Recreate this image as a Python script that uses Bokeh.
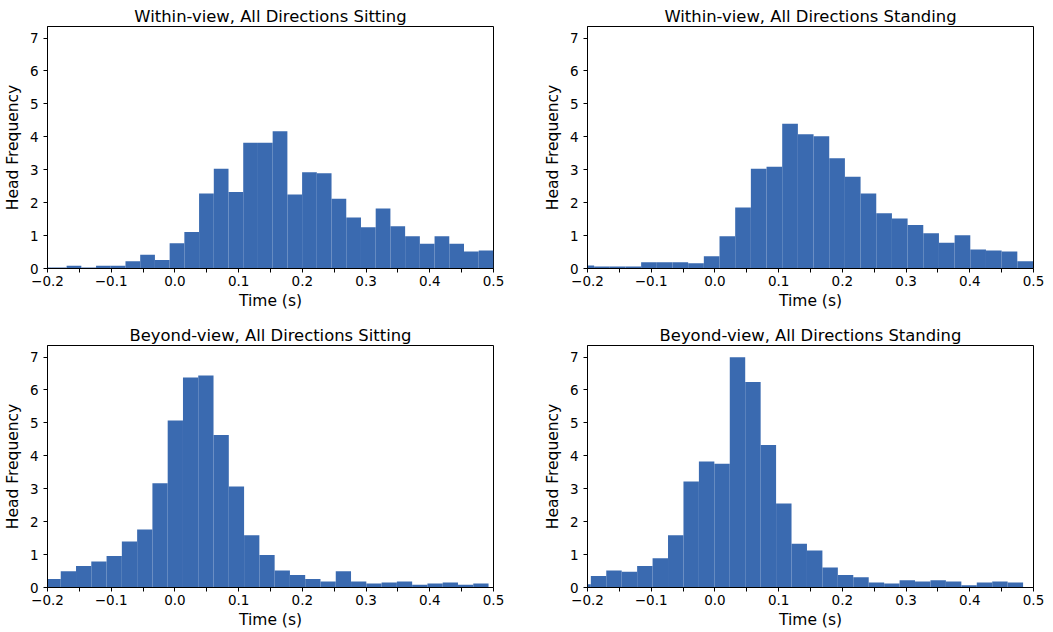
from bokeh.plotting import figure
from bokeh.layouts import column, row
from bokeh.models import FixedTicker, CustomJSTickFormatter, Range1d, ColumnDataSource
from bokeh.embed import file_html
from bokeh.resources import INLINE

# ---- data (histogram bins: first edge, bin width, bar heights) ----
titles = [
    "Within-view, All Directions Sitting",
    "Within-view, All Directions Standing",
    "Beyond-view, All Directions Sitting",
    "Beyond-view, All Directions Standing",
]

ws_start, ws_width = -0.2162, 0.0231
ws_heights = [0.03, 0.03, 0.08, 0.03, 0.08, 0.08, 0.22, 0.42, 0.26, 0.77, 1.11,
              2.28, 3.03, 2.32, 3.82, 3.82, 4.17, 2.25, 2.92, 2.89, 2.12, 1.55,
              1.25, 1.82, 1.28, 0.98, 0.75, 0.98, 0.75, 0.52, 0.55]

wt_start, wt_width = -0.2142, 0.0246
wt_heights = [0.09, 0.06, 0.06, 0.06, 0.19, 0.19, 0.19, 0.16, 0.37, 0.98, 1.85,
              3.03, 3.09, 4.40, 4.08, 4.02, 3.35, 2.79, 2.28, 1.68, 1.52, 1.32,
              1.07, 0.78, 1.01, 0.58, 0.55, 0.52, 0.22]

bs_start, bs_width = -0.2032, 0.02398
bs_heights = [0.26, 0.49, 0.65, 0.79, 0.96, 1.40, 1.76, 3.17, 5.07, 6.38, 6.44,
              4.63, 3.07, 1.59, 0.99, 0.52, 0.38, 0.26, 0.18, 0.49, 0.18, 0.12,
              0.15, 0.18, 0.08, 0.12, 0.15, 0.08, 0.12]

bt_start, bt_width = -0.219, 0.02423
bt_heights = [0.10, 0.35, 0.52, 0.48, 0.65, 0.89, 1.59, 3.22, 3.83, 3.76, 6.99,
              6.24, 4.33, 2.55, 1.33, 1.12, 0.61, 0.38, 0.31, 0.15, 0.12, 0.22,
              0.18, 0.22, 0.18, 0.07, 0.15, 0.18, 0.15]

x_major = [-0.2, -0.1, 0.0, 0.1, 0.2, 0.3, 0.4, 0.5]
x_minor = [-0.15, -0.05, 0.05, 0.15, 0.25, 0.35, 0.45]
y_major = [0, 1, 2, 3, 4, 5, 6, 7]

BAR = "#3a6ab0"
FONT = "DejaVu Sans"


def make(title, start, bw, heights, w, h, bl, br, bt, bb):
    p = figure(width=w, height=h, x_range=Range1d(-0.2, 0.5), y_range=Range1d(0, 7.35),
               output_backend="svg", toolbar_location=None,
               min_border_left=bl, min_border_right=br, min_border_top=bt, min_border_bottom=bb)
    left = [start + bw * i for i in range(len(heights))]
    right = [start + bw * (i + 1) for i in range(len(heights))]
    src = ColumnDataSource(dict(left=left, right=right, top=heights, bottom=[0] * len(heights)))
    p.quad(left="left", right="right", top="top", bottom="bottom", source=src,
           fill_color=BAR, line_color=None)

    p.title.text = title
    p.title.align = "center"
    p.title.text_font = FONT
    p.title.text_font_size = "16.4px"
    p.title.text_font_style = "normal"
    p.title.text_color = "black"
    p.title.standoff = 2

    p.xgrid.visible = False
    p.ygrid.visible = False
    p.outline_line_color = "black"
    p.outline_line_alpha = 1
    p.outline_line_width = 1

    p.xaxis.ticker = FixedTicker(ticks=x_major, minor_ticks=x_minor)
    p.xaxis.formatter = CustomJSTickFormatter(
        code="return (tick < -1e-9 ? '\u2212' : '') + Math.abs(tick).toFixed(1);")
    p.yaxis.ticker = FixedTicker(ticks=y_major, minor_ticks=[])
    p.xaxis.axis_label = "Time (s)"
    p.yaxis.axis_label = "Head Frequency"
    for ax in (p.xaxis, p.yaxis):
        ax.axis_label_text_font = FONT
        ax.axis_label_text_font_size = "15.5px"
        ax.axis_label_text_font_style = "normal"
        ax.axis_label_text_color = "black"
        ax.major_label_text_font = FONT
        ax.major_label_text_font_size = "13.5px"
        ax.major_label_text_color = "black"
        ax.major_tick_out = 4
        ax.major_tick_in = 0
        ax.minor_tick_out = 4
        ax.minor_tick_in = 0
        ax.axis_line_color = "black"
        ax.major_tick_line_color = "black"
        ax.minor_tick_line_color = "black"
    p.xaxis.major_label_standoff = 3
    p.xaxis.axis_label_standoff = 3
    p.yaxis.major_label_standoff = 5
    p.yaxis.axis_label_standoff = 5
    p.yaxis.minor_tick_line_color = None
    return p


# page origin is (0, 0); frames: x 44-493 / 584-1033, y 26-268 / 345-587
p1 = make(titles[0], ws_start, ws_width, ws_heights, 540, 319, 44, 47, 26, 51)
p2 = make(titles[1], wt_start, wt_width, wt_heights, 512, 319, 44, 19, 26, 51)
p3 = make(titles[2], bs_start, bs_width, bs_heights, 540, 312, 44, 47, 26, 44)
p4 = make(titles[3], bt_start, bt_width, bt_heights, 512, 312, 44, 19, 26, 44)

layout = column(row(p1, p2), row(p3, p4))
open("out.html", "w").write(file_html(layout, INLINE))
